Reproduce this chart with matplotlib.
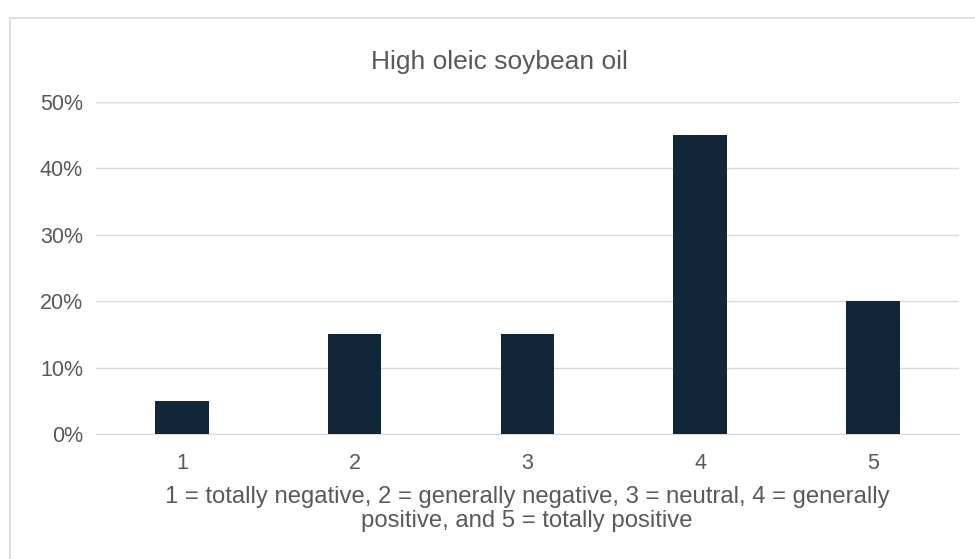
import matplotlib.pyplot as plt
from matplotlib.patches import Rectangle
from matplotlib.ticker import PercentFormatter

categories = ['1', '2', '3', '4', '5']
shares = [0.05, 0.15, 0.15, 0.45, 0.20]
title = 'High oleic soybean oil'
caption = ('1 = totally negative, 2 = generally negative, 3 = neutral, 4 = generally\n'
           'positive, and 5 = totally positive')

plt.rcParams['font.family'] = ['Liberation Sans', 'DejaVu Sans']
text_color = '#595959'
grid_color = '#D9D9D9'

fig = plt.figure(figsize=(9.75, 5.59), dpi=100)
ax = fig.add_axes([0.098, 0.2236, 0.886, 0.594])

x = range(len(categories))
ax.bar(x, shares, width=0.31, color='#12263A', zorder=3)
ax.set_xlim(-0.5, len(categories) - 0.5)
ax.set_ylim(0, 0.5)
ax.set_yticks([0, 0.1, 0.2, 0.3, 0.4, 0.5])
ax.yaxis.set_major_formatter(PercentFormatter(1.0, decimals=0))
ax.set_xticks(list(x))
ax.set_xticklabels(categories)
ax.grid(axis='y', color=grid_color, linewidth=1, zorder=0)
for s in ['top', 'right', 'left']:
    ax.spines[s].set_visible(False)
ax.spines['bottom'].set_color(grid_color)
ax.tick_params(length=0, labelsize=15.5, colors=text_color)
ax.tick_params(axis='y', pad=9)
ax.tick_params(axis='x', pad=13.5)

fig.text(499 / 975, 1 - 62 / 559, title, ha='center', va='center', fontsize=19, color=text_color)
fig.text(527 / 975, 1 - 509 / 559, caption, ha='center', va='center', fontsize=17.2,
         color=text_color, linespacing=1.08)

# chart border (right and bottom edges fall outside the picture)
fig.patches.append(Rectangle((10 / 975, -10 / 559), 980 / 975, 551 / 559, transform=fig.transFigure,
                             fill=False, edgecolor=grid_color, linewidth=1.2))

fig.savefig('out.png', dpi=100)
